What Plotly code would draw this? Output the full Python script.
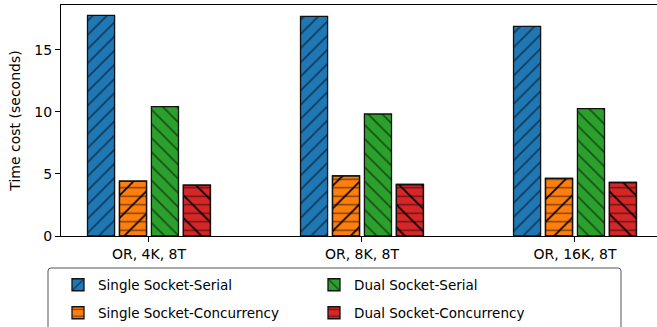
import plotly.graph_objects as go

categories = ["OR, 4K, 8T", "OR, 8K, 8T", "OR, 16K, 8T"]
single_serial = [17.77, 17.69, 16.88]
single_conc = [4.42, 4.85, 4.64]
dual_serial = [10.42, 9.83, 10.26]
dual_conc = [4.10, 4.15, 4.31]
y_ticks = [0, 5, 10, 15]

FONT = "DejaVu Sans"
FS = 13.5
FS_AX = 14
W, H = 657, 327
L, R, T, B = 61, 0, 5, 91
EDGE = "#111111"

series = [
    # name, values, color, main shape, main size, overlay shape, overlay size, legend, legend x px, legend y px
    ("Single Socket-Serial", single_serial, "#1f77b4", "/", 10, None, None, "legend", 99, 285),
    ("Single Socket-Concurrency", single_conc, "#ff7f0e", "-", 8.5, "/", 16, "legend2", 99, 313),
    ("Dual Socket-Serial", dual_serial, "#2ca02c", "\\", 10, None, None, "legend3", 355, 285),
    ("Dual Socket-Concurrency", dual_conc, "#d62728", "-", 8.5, "\\", 16, "legend4", 355, 313),
]

fig = go.Figure()
for i, (name, vals, col, shp, sz, oshp, osz, lg, lx, ly) in enumerate(series):
    fig.add_trace(go.Bar(
        x=categories, y=vals, name=name, offsetgroup=str(i), legend=lg,
        marker=dict(color=col, line=dict(color=EDGE, width=1.3),
                    pattern=dict(shape=shp, size=sz, solidity=0.17,
                                 fgcolor="black", bgcolor=col, fillmode="overlay")),
        hoverinfo="skip",
    ))
    if oshp:
        fig.add_trace(go.Bar(
            x=categories, y=vals, name=name + " hatch", offsetgroup=str(i), showlegend=False,
            marker=dict(color="rgba(0,0,0,0)", line=dict(color=EDGE, width=1.3),
                        pattern=dict(shape=oshp, size=osz, solidity=0.1,
                                     fgcolor="black", bgcolor="rgba(0,0,0,0)", fillmode="replace")),
            hoverinfo="skip",
        ))

legend_common = dict(orientation="h", bgcolor="rgba(0,0,0,0)", borderwidth=0,
                     font=dict(family=FONT, size=FS, color="black"),
                     xref="container", yref="container", xanchor="left", yanchor="middle")
legends = {}
for (name, vals, col, shp, sz, oshp, osz, lg, lx, ly) in series:
    legends[lg] = dict(legend_common, x=(lx - 41) / W, y=1 - ly / H)

# legend frame
pw = W - L - R
ph = H - T - B
def px2paper(xp, yp):
    return (xp - L) / pw, (H - B - yp) / ph
x0, y1 = px2paper(48, 268)
x1, y0 = px2paper(621, 340)
rx, ry = 3 / pw, 3 / ph
path = (f"M{x0},{y0} L{x0},{y1 - ry} Q{x0},{y1} {x0 + rx},{y1} "
        f"L{x1 - rx},{y1} Q{x1},{y1} {x1},{y1 - ry} L{x1},{y0}")

fig.update_layout(
    width=W, height=H, autosize=False,
    margin=dict(l=L, r=R, t=T, b=B, pad=0),
    paper_bgcolor="white", plot_bgcolor="white",
    barmode="group", bargap=0.4, bargroupgap=0.153,
    font=dict(family=FONT, size=FS, color="black"),
    shapes=[dict(type="path", path=path, xref="paper", yref="paper",
                 line=dict(color="#555555", width=1), layer="above")],
    **legends,
)
fig.update_xaxes(
    range=[-0.413, 2.385], showline=True, linecolor="black", linewidth=1, mirror=True,
    ticks="outside", ticklen=5, tickwidth=1, tickcolor="black", showgrid=False, zeroline=False,
    tickfont=dict(family=FONT, size=FS_AX),
)
fig.update_yaxes(
    range=[0, 18.61], tickvals=y_ticks, showline=True, linecolor="black", linewidth=1,
    ticks="outside", ticklen=5, tickwidth=1, tickcolor="black", showgrid=False, zeroline=False,
    tickfont=dict(family=FONT, size=FS_AX),
    title=dict(text="Time cost (seconds)", font=dict(family=FONT, size=FS_AX), standoff=10),
)

fig.write_html("out.html", config={"displayModeBar": False},
               post_script="document.body.style.margin='0';document.body.style.overflow='hidden';")
